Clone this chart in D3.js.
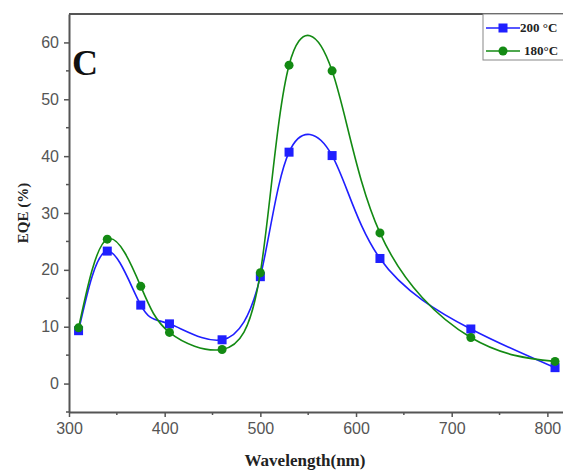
<!doctype html>
<html>
<head>
    <meta charset="utf-8">
    <title>EQE vs wavelength</title>
    <script src="https://cdn.jsdelivr.net/npm/d3@7"></script>
    <style>
        body { margin: 0; background: #fff; }
        .tick text { font-family: "Liberation Sans", Arial, sans-serif; fill: #555; }
    </style>
</head>
<body>
<div id="plot"></div>
<script>
// values
var wavelengths = [310, 340, 375, 405, 460, 500, 530, 575, 625, 720, 808];
var eqe200 = [9.3, 23.3, 13.8, 10.5, 7.7, 18.8, 40.7, 40.1, 22.0, 9.6, 2.8];
var eqe180 = [9.8, 25.4, 17.1, 9.0, 6.0, 19.5, 56.0, 55.0, 26.5, 8.1, 3.9];
var seriesNames = ['200 °C', '180°C'];
var xTicks = [300, 400, 500, 600, 700, 800];
var yTicks = [0, 10, 20, 30, 40, 50, 60];

var W = 563, H = 475;
var plotL = 69, plotT = 14, plotR = 600, plotB = 412;

var svg = d3.select('#plot').append('svg')
    .attr('width', W).attr('height', H);

var x = d3.scaleLinear().domain([300, 855]).range([plotL, plotR]);
var y = d3.scaleLinear().domain([-5, 65]).range([plotB, plotT]);

// frame
svg.append('line').attr('x1', plotL).attr('x2', W).attr('y1', plotT).attr('y2', plotT)
    .style('stroke', '#555').style('stroke-width', 2);

var xAxis = svg.append('g').attr('transform', 'translate(0,' + plotB + ')')
    .call(d3.axisBottom(x).tickValues(xTicks).tickSize(5).tickPadding(6).tickSizeOuter(0));
var yAxis = svg.append('g').attr('transform', 'translate(' + plotL + ',0)')
    .call(d3.axisLeft(y).tickValues(yTicks).tickSize(5).tickPadding(5).tickSizeOuter(0));

[xAxis, yAxis].forEach(function(g){
    g.select('.domain').style('stroke', '#555').style('stroke-width', 2);
    g.selectAll('.tick line').style('stroke', '#555').style('stroke-width', 1.5);
    g.selectAll('.tick text').style('font-size', '16px');
});

// minor ticks
svg.selectAll('.xminor').data([350, 450, 550, 650, 750])
    .enter().append('line')
    .attr('x1', function(d){ return x(d); }).attr('x2', function(d){ return x(d); })
    .attr('y1', plotB).attr('y2', plotB + 3)
    .style('stroke', '#555').style('stroke-width', 1.5);
svg.selectAll('.yminor').data([-5, 5, 15, 25, 35, 45, 55])
    .enter().append('line')
    .attr('x1', plotL).attr('x2', plotL - 3)
    .attr('y1', function(d){ return y(d); }).attr('y2', function(d){ return y(d); })
    .style('stroke', '#555').style('stroke-width', 1.5);

// axis titles
svg.append('text').attr('x', 305).attr('y', 466).attr('text-anchor', 'middle')
    .style('font-family', '"Liberation Serif", "Times New Roman", serif')
    .style('font-weight', 'bold').style('font-size', '17px').style('fill', '#222')
    .text('Wavelength(nm)');
svg.append('text').attr('transform', 'translate(28,' + ((plotT + plotB) / 2) + ') rotate(-90)')
    .attr('text-anchor', 'middle')
    .style('font-family', '"Liberation Serif", "Times New Roman", serif')
    .style('font-weight', 'bold').style('font-size', '15px').style('fill', '#222')
    .text('EQE (%)');

// panel letter
svg.append('text').attr('x', 72).attr('y', 75)
    .style('font-family', '"Liberation Serif", "Times New Roman", serif')
    .style('font-weight', 'bold').style('font-size', '36px').style('fill', '#111')
    .text('C');

var line = d3.line()
    .x(function(d){ return x(d[0]); })
    .y(function(d){ return y(d[1]); })
    .curve(d3.curveNatural);

var series = [
    { name: seriesNames[0], values: eqe200, color: '#1f1fff', shape: 'square' },
    { name: seriesNames[1], values: eqe180, color: '#138a13', shape: 'circle' }
];

function drawMarker(g, s, cx, cy) {
    if (s.shape === 'square') {
        g.append('rect').attr('x', cx - 4.5).attr('y', cy - 4.5)
            .attr('width', 9).attr('height', 9).style('fill', s.color);
    } else {
        g.append('circle').attr('cx', cx).attr('cy', cy).attr('r', 4.5).style('fill', s.color);
    }
}

series.forEach(function(s){
    var pts = d3.zip(wavelengths, s.values);
    svg.append('path').datum(pts).attr('d', line)
        .style('fill', 'none').style('stroke', s.color).style('stroke-width', 1.6);
    var g = svg.append('g');
    pts.forEach(function(p){ drawMarker(g, s, x(p[0]), y(p[1])); });
});

// legend
var lg = svg.append('g');
lg.append('rect').attr('x', 483).attr('y', 14).attr('width', 90).attr('height', 46)
    .style('fill', '#fff').style('stroke', '#888').style('stroke-width', 1);
series.forEach(function(s, i){
    var ly = 28 + i * 23;
    lg.append('line').attr('x1', 486).attr('x2', 520).attr('y1', ly).attr('y2', ly)
        .style('stroke', s.color).style('stroke-width', 1.6);
    drawMarker(lg, s, 503, ly);
    lg.append('text').attr('x', i === 0 ? 520 : 524).attr('y', ly + 4)
        .style('font-family', '"Liberation Serif", "Times New Roman", serif')
        .style('font-weight', 'bold').style('font-size', '13px').style('fill', '#222')
        .text(s.name);
});
</script>
</body>
</html>
